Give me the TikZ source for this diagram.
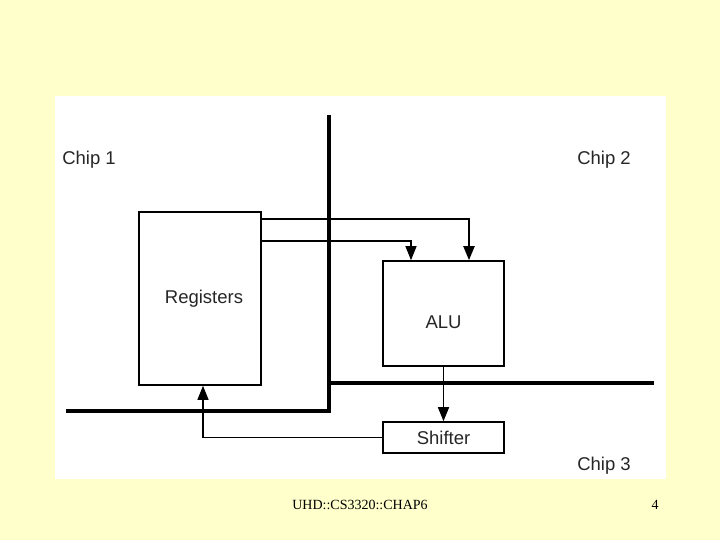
\documentclass[tikz,border=0pt]{standalone}
\usepackage{fontspec}
\setmainfont{Liberation Serif}
\newfontfamily\chipfont{Liberation Sans}
\usetikzlibrary{arrows.meta}
\definecolor{slidebg}{RGB}{255,255,204}

\begin{document}
\begin{tikzpicture}[x=1pt, y=-1pt, >={Triangle[length=14pt, width=11pt]}, block/.style={draw, line width=1.6pt, inner sep=0pt, font=\chipfont\fontsize{18.5}{20}\selectfont, text=black!85}, chip/.style={font=\chipfont\fontsize{18.5}{20}\selectfont, text=black!85}, bus/.style={line width=3.2pt}, wire/.style={line width=1.1pt}]

				\useasboundingbox [fill=slidebg] (0,0) rectangle (720,540);
				\fill [white] (55,96) rectangle (666,479);

				\node [chip] (C1) at (89,160) {Chip 1};
				\node [chip] (C2) at (604,160) {Chip 2};
				\node [chip] (C3) at (604,466) {Chip 3};

				\node [block, minimum width=122pt, minimum height=173pt] (R) at (200,298.5) {};
				\node [chip] (RL) at (204,299) {Registers};
				\node [block, minimum width=121pt, minimum height=105pt] (A) at (443.5,313.5) {};
				\node [chip] (AL) at (443.5,322) {ALU};
				\node [block, minimum width=121pt, minimum height=31pt] (S) at (443.5,437.5) {Shifter};

				% chip borders
				\coordinate (top) at (329,115);
				\coordinate (corner) at (329,411);
				\coordinate (left) at (66,411);
				\coordinate (right) at (654,383);
				\draw [bus] (top) -- (corner) -- (left);
				\draw [bus] (corner |- right) -- (right);

				\coordinate (busA) at (469,219);
				\coordinate (busB) at (411,241);
				\coordinate (back) at (203,440);
				\draw [wire, line width=2pt, ->] (R.east |- busA) -| (A.north -| busA);
				\draw [wire, ->] (R.east |- busB) -| (A.north -| busB);
				\draw [wire, line width=1.6pt, ->] (A.south) -- (S.north);
				\draw [wire, ->] (S.west) -| (R.south -| back);

				\node [font=\fontsize{14}{16}\selectfont] (F) at (360,505) {UHD::CS3320::CHAP6};
				\node [font=\fontsize{14}{16}\selectfont] (P) at (655,505) {4};

			\end{tikzpicture}
\end{document}
